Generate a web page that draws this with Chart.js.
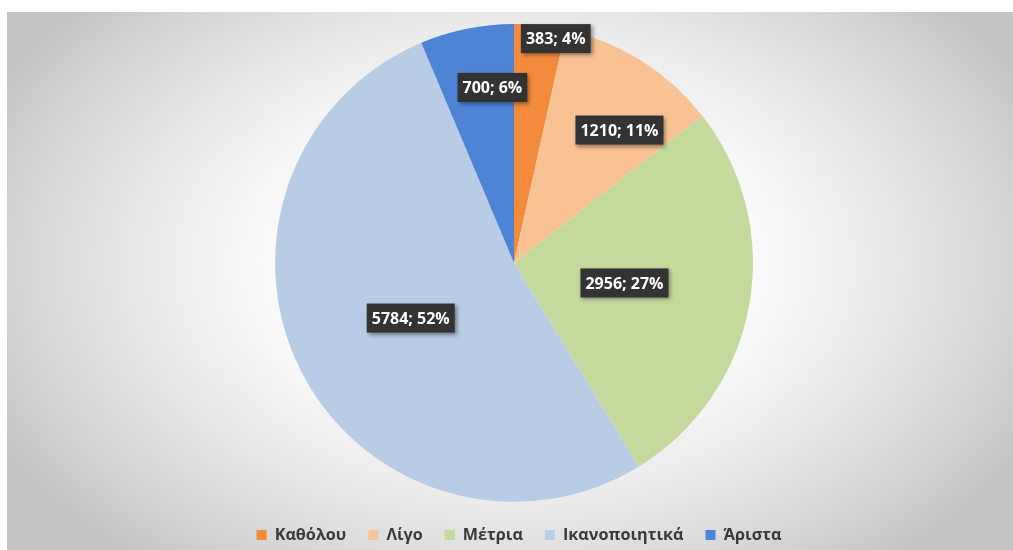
<!DOCTYPE html>
<html>
<head>
<meta charset="utf-8">
<script src="https://cdn.jsdelivr.net/npm/chart.js@4/dist/chart.umd.min.js"></script>
<style>
  html, body { margin: 0; padding: 0; background: #ffffff; }
  #bg {
    position: absolute; left: 7px; top: 12px; width: 1006px; height: 538px;
    background: radial-gradient(ellipse 58% 72% at 50.4% 46.8%, #ffffff 0%, #fbfbfb 40%, #e8e8e8 65%, #d2d2d2 87%, #c4c4c4 100%);
  }
  #wrap { position: absolute; left: 0; top: 0; width: 1013px; height: 550px; }
</style>
</head>
<body>
<div id="bg"></div>
<div id="wrap"><canvas id="c" width="1013" height="550"></canvas></div>
<script>
const categories = ["Καθόλου", "Λίγο", "Μέτρια", "Ικανοποιητικά", "Άριστα"];
const values = [383, 1210, 2956, 5784, 700];
const colors = ["#f28b3c", "#f9c294", "#c4d99c", "#b8cce6", "#4d84d6"];

// label placement (radial factor, angle shift in degrees) - style only
const labelPlacement = [[0.955, 4.3], [0.71, 6.2], [0.47, 0.1], [0.49, -0.9], [0.74, 4.4]];

// percentages rounded so they add up to 100 (largest remainder, as the spreadsheet does)
function roundedPercents(data) {
  const total = data.reduce((a, b) => a + b, 0);
  const raw = data.map(v => v / total * 100);
  const fl = raw.map(Math.floor);
  let left = 100 - fl.reduce((a, b) => a + b, 0);
  const order = raw.map((r, i) => [r - fl[i], i]).sort((a, b) => b[0] - a[0]);
  for (let k = 0; k < left; k++) fl[order[k][1]] += 1;
  return fl;
}

const labelPlugin = {
  id: 'boxLabels',
  afterLayout(chart) {
    chart.legend.top += 3;
    chart.legend.bottom += 3;
    chart.legend.left += 5;
    chart.legend.right += 5;
  },
  afterDatasetsDraw(chart) {
    const ctx = chart.ctx;
    const meta = chart.getDatasetMeta(0);
    const data = chart.data.datasets[0].data;
    const pct = roundedPercents(data);
    ctx.save();
    ctx.font = 'bold 16px "Open Sans"';
    ctx.textAlign = 'center';
    ctx.textBaseline = 'middle';
    meta.data.forEach((arc, i) => {
      const p = arc.getProps(['x', 'y', 'startAngle', 'endAngle', 'outerRadius'], true);
      const mid = (p.startAngle + p.endAngle) / 2 + labelPlacement[i][1] * Math.PI / 180;
      const r = p.outerRadius * labelPlacement[i][0];
      const cx = p.x + Math.cos(mid) * r;
      const cy = p.y + Math.sin(mid) * r;
      const txt = data[i] + '; ' + pct[i] + '%';
      const w = ctx.measureText(txt).width + 10;
      const h = 29;
      ctx.save();
      ctx.shadowColor = 'rgba(0,0,0,0.4)';
      ctx.shadowBlur = 4;
      ctx.shadowOffsetX = 2;
      ctx.shadowOffsetY = 2;
      ctx.fillStyle = '#333333';
      ctx.fillRect(cx - w / 2, cy - h / 2, w, h);
      ctx.restore();
      ctx.fillStyle = '#ffffff';
      ctx.fillText(txt, cx, cy + 1);
    });
    ctx.restore();
  }
};

new Chart(document.getElementById('c'), {
  type: 'pie',
  data: {
    labels: categories,
    datasets: [{
      data: values,
      backgroundColor: colors,
      borderWidth: 0
    }]
  },
  options: {
    responsive: false,
    animation: false,
    layout: { padding: { top: 24, left: 15, right: 0, bottom: 0 } },
    plugins: {
      tooltip: { enabled: false },
      legend: {
        position: 'bottom',
        labels: {
          boxWidth: 10,
          boxHeight: 10,
          padding: 22,
          color: '#3a3a3a',
          font: { family: '"Open Sans"', size: 16.2, weight: 'bold' }
        }
      }
    }
  },
  plugins: [labelPlugin]
});
</script>
</body>
</html>
